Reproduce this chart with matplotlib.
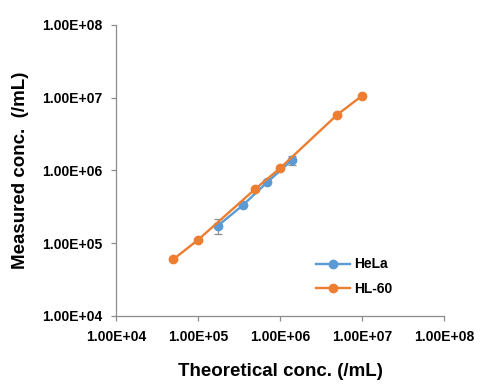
import numpy as np
import matplotlib.pyplot as plt
from matplotlib.lines import Line2D
from matplotlib.ticker import FixedLocator, FuncFormatter, NullLocator

plt.rcParams['font.family'] = ['Liberation Sans', 'DejaVu Sans']

# HeLa (blue)
hela_x = [1.75e5, 3.5e5, 7.0e5, 1.4e6]
hela_y = [1.74e5, 3.3e5, 6.9e5, 1.39e6]
hela_err = [0.41e5, 0.0, 0.0, 0.2e6]

# HL-60 (orange)
hl60_x = [5e4, 1e5, 5e5, 1e6, 5e6, 1e7]
hl60_y = [6.0e4, 1.11e5, 5.57e5, 1.07e6, 5.85e6, 1.06e7]

decades = [1e4, 1e5, 1e6, 1e7, 1e8]

blue = '#5B9BD5'
orange = '#ED7D31'
axis_gray = '#8C8C8C'


def sci_fmt(v, pos):
    return f"{v:.2E}"


def main():
    fig = plt.figure(figsize=(4.96, 3.90), dpi=100)
    ax = fig.add_axes([0.234, 0.190, 0.661, 0.746])

    ax.errorbar(hela_x, hela_y, yerr=hela_err, color=blue, marker='o',
                markersize=6, linewidth=1.7, ecolor='#8E8E8E',
                elinewidth=0.9, capsize=3, capthick=0.9, zorder=3)
    ax.plot(hl60_x, hl60_y, color=orange, marker='o', markersize=6,
            linewidth=1.7, zorder=4)

    ax.set_xscale('log')
    ax.set_yscale('log')
    ax.set_xlim(1e4, 1e8)
    ax.set_ylim(1e4, 1e8)
    ax.xaxis.set_major_locator(FixedLocator(decades))
    ax.yaxis.set_major_locator(FixedLocator(decades))
    ax.xaxis.set_minor_locator(NullLocator())
    ax.yaxis.set_minor_locator(NullLocator())
    ax.xaxis.set_major_formatter(FuncFormatter(sci_fmt))
    ax.yaxis.set_major_formatter(FuncFormatter(sci_fmt))

    for s in ['top', 'right']:
        ax.spines[s].set_visible(False)
    for s in ['left', 'bottom']:
        ax.spines[s].set_color(axis_gray)
        ax.spines[s].set_linewidth(0.9)
    ax.tick_params(axis='both', direction='out', length=3.5, width=0.9,
                   color=axis_gray, labelsize=10)
    ax.tick_params(axis='x', pad=7)
    ax.tick_params(axis='y', pad=6)
    for lab in ax.get_xticklabels() + ax.get_yticklabels():
        lab.set_fontweight('bold')

    ax.set_xlabel('Theoretical conc. (/mL)', fontsize=13.5, fontweight='bold', labelpad=13)
    ax.set_ylabel('Measured conc.  (/mL)', fontsize=13.5, fontweight='bold', labelpad=10)

    handles = [Line2D([], [], color=blue, marker='o', markersize=6, linewidth=1.7),
               Line2D([], [], color=orange, marker='o', markersize=6, linewidth=1.7)]
    ax.legend(handles, ['HeLa', 'HL-60'], loc='upper left',
              bbox_to_anchor=(0.59, 0.225), frameon=False,
              prop={'weight': 'bold', 'size': 10}, handlelength=2.4,
              handletextpad=0.3, labelspacing=0.75, borderpad=0)

    fig.savefig('out.png', dpi=100)


if __name__ == "__main__":
    main()
